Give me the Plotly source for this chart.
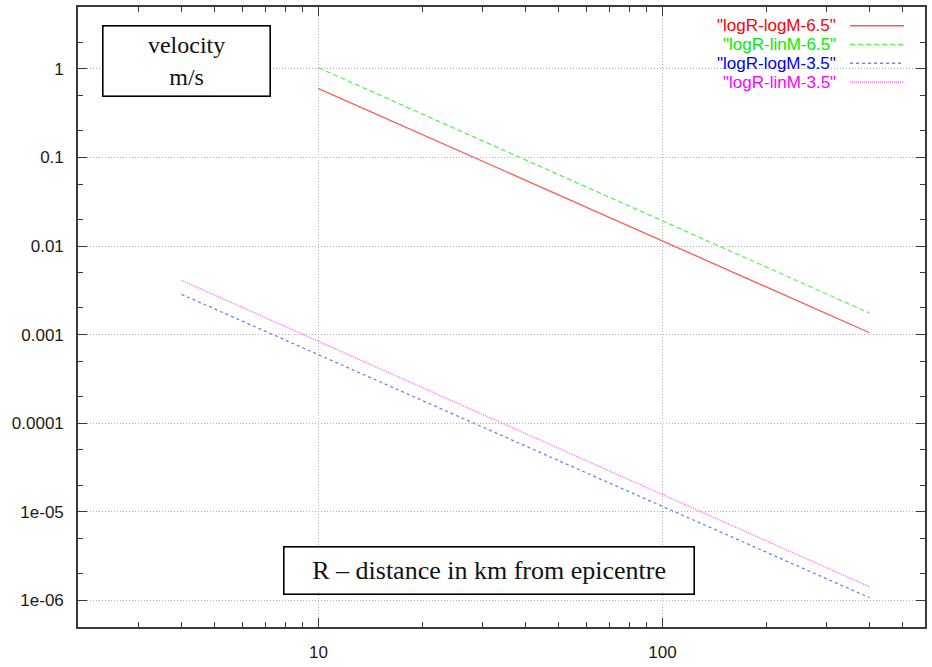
import plotly.graph_objects as go

# ---- data ----
names = ['"logR-logM-6.5"', '"logR-linM-6.5"', '"logR-logM-3.5"', '"logR-linM-3.5"']
x_big = [10, 400]
red_y = [0.60, 0.00105]
green_y = [1.03, 0.00175]
x_small = [4, 400]
blue_y = [0.00285, 1.07e-6]
magenta_y = [0.0041, 1.42e-6]

y_tickvals = [1, 0.1, 0.01, 0.001, 0.0001, 1e-5, 1e-6]
y_ticktext = ["1", "0.1", "0.01", "0.001", "0.0001", "1e-05", "1e-06"]
x_tickvals = [10, 100]
x_ticktext = ["10", "100"]

line_colors = ["#ff5a5a", "#5cf55c", "#7a7aff", "#ff66ff"]
text_colors = ["#ff0000", "#00ee00", "#0000ff", "#ff00ff"]
dashes = ["solid", "5px,3px", "3px,3px", "1px,1px"]

series = [(x_big, red_y), (x_big, green_y), (x_small, blue_y), (x_small, magenta_y)]

fig = go.Figure()
for (xs, ys), nm, c, d in zip(series, names, line_colors, dashes):
    fig.add_trace(go.Scatter(x=xs, y=ys, mode="lines", name=nm,
                             line=dict(color=c, width=1.3, dash=d),
                             showlegend=False))

W, H = 932, 667
ml, mr, mt, mb = 78, 6, 5, 34
pw, ph = W - ml - mr, H - mt - mb

def px(xp):
    return (xp - ml) / pw

def py(yp):
    return (H - mb - yp) / ph

axis_common = dict(
    showline=True, linecolor="#3a3a3a", linewidth=1.6, mirror="allticks",
    ticks="inside", ticklen=9, tickwidth=1.2, tickcolor="#3a3a3a",
    showgrid=True, gridcolor="#b4b4b4", gridwidth=1, griddash="1px,2px",
    zeroline=False, tickfont=dict(family="Liberation Sans, Arial, sans-serif", size=17, color="#1a1a1a"),
    ticklabelstandoff=9,
)

fig.update_xaxes(type="log", range=[0.301, 2.763], tickmode="array",
                 tickvals=x_tickvals, ticktext=x_ticktext,
                 minor=dict(dtick="D1", ticks="inside", ticklen=5, tickcolor="#3a3a3a", showgrid=False),
                 **axis_common)
fig.update_yaxes(type="log", range=[-6.301, 0.699], tickmode="array",
                 tickvals=y_tickvals, ticktext=y_ticktext,
                 minor=dict(dtick="D2", ticks="inside", ticklen=5, tickcolor="#3a3a3a", showgrid=False),
                 **axis_common)

# legend drawn gnuplot-style: right-aligned text then line sample
rows = [24, 43, 62, 81]
for nm, tc, lc, d, yr in zip(names, text_colors, line_colors, dashes, rows):
    fig.add_annotation(xref="paper", yref="paper", x=px(839), y=py(yr), text=nm,
                       xanchor="right", yanchor="middle", showarrow=False,
                       font=dict(family="Liberation Sans, Arial, sans-serif", size=17, color=tc))
    fig.add_shape(type="line", xref="paper", yref="paper", x0=px(851), x1=px(905),
                  y0=py(yr), y1=py(yr), line=dict(color=lc, width=1.5, dash=d))

serif = "Liberation Serif, Times New Roman, serif"
fig.add_annotation(xref="paper", yref="paper", x=px(186.5), y=py(60), text="velocity<br>m/s",
                   showarrow=False, xanchor="center", yanchor="middle",
                   width=166, height=69, borderpad=0, bordercolor="#000", borderwidth=1.6,
                   bgcolor="white", font=dict(family=serif, size=24, color="#111"))
fig.add_annotation(xref="paper", yref="paper", x=px(489), y=py(575.5),
                   text="R \u2013 distance in km from epicentre",
                   showarrow=False, xanchor="center", yanchor="middle",
                   width=409, height=46, borderpad=0, bordercolor="#000", borderwidth=1.6,
                   bgcolor="white", font=dict(family=serif, size=26, color="#111"))

fig.update_layout(width=W, height=H, margin=dict(l=ml, r=mr, t=mt, b=mb),
                  paper_bgcolor="white", plot_bgcolor="white", showlegend=False)

fig.write_html("out.html")
